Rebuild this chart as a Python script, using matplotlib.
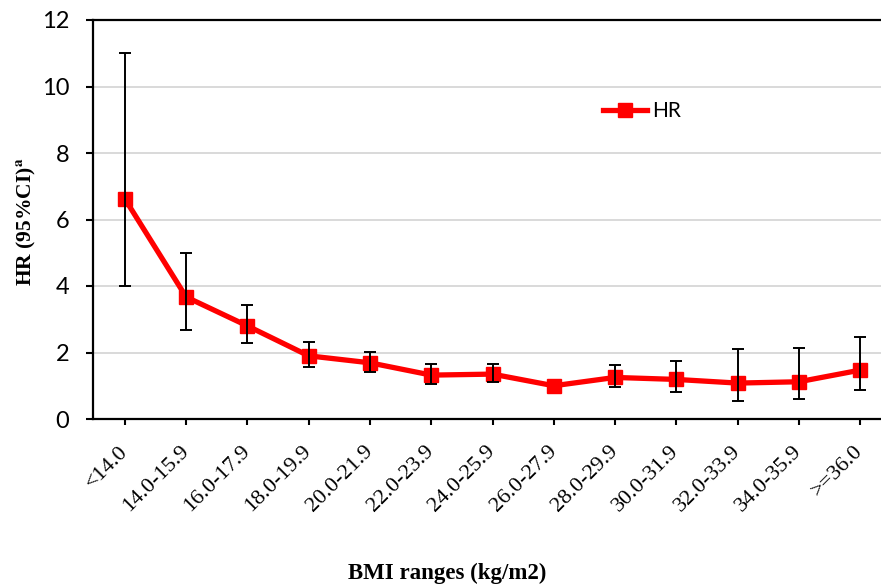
import numpy as np
import matplotlib
matplotlib.use("Agg")
import matplotlib.pyplot as plt

categories = ["<14.0", "14.0-15.9", "16.0-17.9", "18.0-19.9", "20.0-21.9", "22.0-23.9",
              "24.0-25.9", "26.0-27.9", "28.0-29.9", "30.0-31.9", "32.0-33.9", "34.0-35.9", ">=36.0"]
hr = [6.62, 3.67, 2.80, 1.90, 1.69, 1.32, 1.35, 1.00, 1.25, 1.19, 1.08, 1.12, 1.47]
ci_low = [4.00, 2.68, 2.29, 1.57, 1.40, 1.04, 1.10, np.nan, 0.96, 0.81, 0.55, 0.61, 0.86]
ci_high = [11.00, 5.00, 3.43, 2.31, 2.03, 1.65, 1.66, np.nan, 1.61, 1.75, 2.10, 2.14, 2.48]
yticks = [0, 2, 4, 6, 8, 10, 12]

plt.rcParams['mathtext.fontset'] = 'stix'

W, H = 881, 587
fig = plt.figure(figsize=(W / 100, H / 100), dpi=100)
ax_left, ax_right, ax_bot, ax_top = 93, 881, 419, 20
ax = fig.add_axes([ax_left / W, 1 - ax_bot / H, (ax_right - ax_left) / W, (ax_bot - ax_top) / H])

x = np.arange(len(categories))
hr_a = np.array(hr)
lo = np.array(ci_low)
hi = np.array(ci_high)

ax.plot(x, hr_a, color='#ff0000', lw=3.8, marker='s', markersize=9.5, zorder=3, label='HR')
m = ~np.isnan(lo)
ax.errorbar(x[m], hr_a[m], yerr=[hr_a[m] - lo[m], hi[m] - hr_a[m]], fmt='none',
            ecolor='black', elinewidth=1.4, capsize=4, capthick=1.4, zorder=4)

ax.set_ylim(0, 12)
ax.set_xlim(-0.52, 12.34)
ax.set_yticks(yticks)
ax.set_yticklabels([str(v) for v in yticks], family='Lato', fontsize=17)
ax.set_xticks(x)
ax.set_xticklabels(categories, family='Liberation Serif', fontsize=16, rotation=45,
                   ha='right', va='center', rotation_mode='anchor')
ax.tick_params(axis='y', direction='out', length=5, width=1.5, pad=12)
ax.tick_params(axis='x', direction='out', length=4.5, width=1.5, pad=17)

for g in yticks[1:-1]:
    ax.axhline(g, color='#d9d9d9', lw=1.4, zorder=0)
ax.spines['right'].set_visible(False)
for s in ['left', 'bottom', 'top']:
    ax.spines[s].set_linewidth(1.6)
    ax.spines[s].set_color('black')

fig.text(26 / W, 1 - 222 / H, r'HR (95%CI)$^{\mathbf{a}}$', rotation=90, ha='center', va='center',
         family='Liberation Serif', fontweight='bold', fontsize=15.5)
fig.text(447 / W, 1 - 573 / H, 'BMI ranges (kg/m2)', ha='center', va='center',
         family='Liberation Serif', fontweight='bold', fontsize=16.5)

leg = ax.legend(loc='center left', bbox_to_anchor=(603 / W, 1 - 111 / H), bbox_transform=fig.transFigure,
                frameon=False, borderpad=0, borderaxespad=0, handlelength=2.1, handletextpad=0.25,
                prop={'family': 'Lato', 'size': 15})

fig.savefig('out.png', dpi=100)
